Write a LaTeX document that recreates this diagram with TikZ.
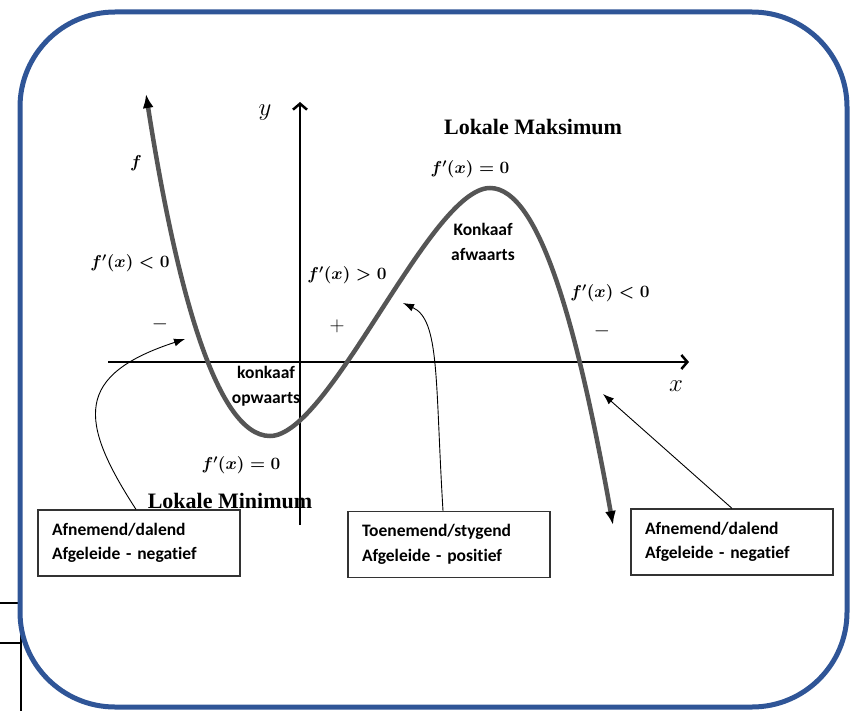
\documentclass[tikz,border=0pt]{standalone}
\usepackage{fontspec}
\usepackage{amsmath,bm}
\setmainfont{Liberation Serif}
\newfontfamily\carl[Ligatures=NoCommon]{Carlito}
\usetikzlibrary{arrows.meta}
\definecolor{bordblue}{RGB}{47,85,151}
\definecolor{curvegray}{RGB}{85,85,85}
\begin{document}
\begin{tikzpicture}[x=1pt,y=-1pt,
  sans/.style={font=\carl\bfseries\fontsize{17.5}{24.5}\selectfont},
  mlab/.style={font=\fontsize{17}{20}\selectfont\boldmath},
  ttl/.style={font=\bfseries\fontsize{22}{26}\selectfont},
  sgn/.style={font=\fontsize{20}{22}\selectfont},
  axlab/.style={font=\fontsize{29}{31}\selectfont},
  infobox/.style={draw=black!80, line width=1.2pt, sans, text width=174pt, align=left, inner xsep=14pt, minimum height=66pt, inner ysep=0pt},
  axis/.style={line width=2.5pt, -{Straight Barb[length=6pt,width=14pt]}},
  callout/.style={line width=0.9pt, -{Latex[length=11pt,width=8pt]}},
  fcurve/.style={curvegray, line width=4.5pt, {Latex[color=black,length=14pt,width=11pt]}-{Latex[color=black,length=14pt,width=11pt]}}
]
\useasboundingbox (0,0) rectangle (858,711);
% table edge fragments
\draw[line width=2pt] (0,603) -- (21,603);
\draw[line width=2pt] (0,643) -- (21,643);
\draw[line width=2pt] (21,600) -- (21,711);
% frame
\draw[bordblue, line width=5pt, rounded corners=95pt] (20,12) rectangle (847,707);
% axes
\coordinate (xs) at (108,362);
\coordinate (xe) at (689,362);
\coordinate (ys) at (300,525);
\coordinate (ye) at (300,102);
\draw[axis] (xs) -- (xe);
\draw[axis] (ys) -- (ye);
\node[axlab] (ylab) at (265,113) {$y$};
\node[axlab] (xlab) at (676,386) {$x$};
% curve
\draw[fcurve] (146,94) .. controls (175,280) and (215,436) .. (270,436)
  .. controls (330,436) and (430,188) .. (490,188)
  .. controls (540,188) and (578,330) .. (613,525);
% labels
\node[mlab] (flab) at (136,163) {$f$};
\node[mlab] (fpl) at (130,263) {$f'(x) < 0$};
\node[sgn] (ml) at (160,324) {$-$};
\node[mlab] (fpm) at (347,275) {$f'(x) > 0$};
\node[sgn] (pl) at (337,326) {$+$};
\node[mlab] (fpmax) at (470,169) {$f'(x) = 0$};
\node[ttl] (lmax) at (533,127) {Lokale Maksimum};
\node[sans, align=center] (kaf) at (483,242) {Konkaaf\\afwaarts};
\node[mlab] (fpr) at (610,293) {$f'(x) < 0$};
\node[sgn] (mr) at (602,331) {$-$};
\node[sans, align=center] (kop) at (266,386) {konkaaf\\opwaarts};
\node[mlab] (fpmin) at (241,465) {$f'(x) = 0$};
\node[ttl] (lmin) at (230,501) {Lokale Minimum};
% boxes
\node[infobox] (box1) at (139,543) {Afnemend/dalend\\Afgeleide - negatief};
\node[infobox] (box2) at (449,544.5) {Toenemend/stygend\\Afgeleide - positief};
\node[infobox] (box3) at (732,542) {Afnemend/dalend\\Afgeleide - negatief};
% callouts
\coordinate (t1) at (185,339);
\coordinate (t2) at (403,303);
\coordinate (t3) at (603,394);
\draw[callout] ([xshift=-3pt]box1.north) .. controls (78,420) and (75,375) .. (t1);
\draw[callout] ([xshift=-6pt]box2.north) .. controls (435,380) and (440,320) .. (t2);
\draw[callout] (box3.north) -- (t3);
\end{tikzpicture}
\end{document}
